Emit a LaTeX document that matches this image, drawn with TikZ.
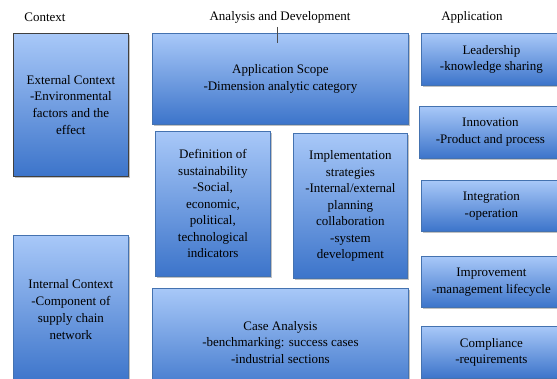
\documentclass[tikz,border=0pt]{standalone}
\usepackage{fontspec}
\setmainfont{Liberation Serif}
\usetikzlibrary{shadows}
\definecolor{boxtop}{HTML}{A8C8F8}
\definecolor{boxbot}{HTML}{3C74CA}
\definecolor{boxline}{HTML}{4472B0}
\tikzset{
  blk/.style={draw=boxline, line width=0.8pt, top color=boxtop, bottom color=boxbot,
    align=center, inner sep=0pt, anchor=north west, text=black,
    font=\fontsize{13}{16.8}\selectfont,
    drop shadow={shadow xshift=1.2pt, shadow yshift=-1.8pt, opacity=0.35, fill=black!70}},
  hdr/.style={font=\fontsize{13}{15}\selectfont, text=black, inner sep=0pt}
}
\begin{document}
\begin{tikzpicture}[x=1pt,y=-1pt]
\useasboundingbox (0,0) rectangle (557,379);
\begin{scope}
\clip (0,0) rectangle (557,379);
% headers
\node[hdr] (hctx) at (45,17) {Context};
\node[hdr] (hana) at (280,17) {Analysis and Development};
\node[hdr] (happ) at (472,17) {Application};
% left column
\node[blk, draw=black!75, minimum width=115pt, minimum height=143pt] (ext) at (13,33)
  {External Context\\-Environmental\\factors and the\\effect};
\node[blk, minimum width=115pt, minimum height=148pt] (int) at (13,235)
  {Internal Context\\-Component of\\supply chain\\network};
% middle column
\node[blk, minimum width=256pt, minimum height=91pt] (scope) at (152,33)
  {Application Scope\\-Dimension analytic category};
\node[blk, minimum width=115pt, minimum height=145pt, font=\fontsize{13}{16.5}\selectfont] (def) at (155,131)
  {Definition of\\sustainability\\-Social,\\economic,\\political,\\technological\\indicators};
\node[blk, minimum width=114pt, minimum height=145pt, font=\fontsize{13}{16.5}\selectfont] (imp) at (293,133)
  {Implementation\\strategies\\-Internal/external\\planning\\collaboration\\-system\\development};
\node[blk, minimum width=256pt, minimum height=108pt] (case) at (152,288)
  {Case Analysis\\-benchmarking: success cases\\-industrial sections};
% right column
\node[blk, minimum width=140pt, minimum height=52pt] (lead) at (421,33)
  {Leadership\\-knowledge sharing};
\node[blk, minimum width=142pt, minimum height=52pt] (inno) at (419,106)
  {Innovation\\-Product and process};
\node[blk, minimum width=140pt, minimum height=51pt] (integ) at (421,180)
  {Integration\\-operation};
\node[blk, minimum width=140pt, minimum height=51pt] (improv) at (421,256)
  {Improvement\\-management lifecycle};
\node[blk, minimum width=140pt, minimum height=52pt] (comp) at (421,326)
  {Compliance\\-requirements};
\end{scope}
\coordinate (tick) at (277,43);
\draw[black!70, line width=0.5pt] (277,27) -- (tick);
\end{tikzpicture}
\end{document}
